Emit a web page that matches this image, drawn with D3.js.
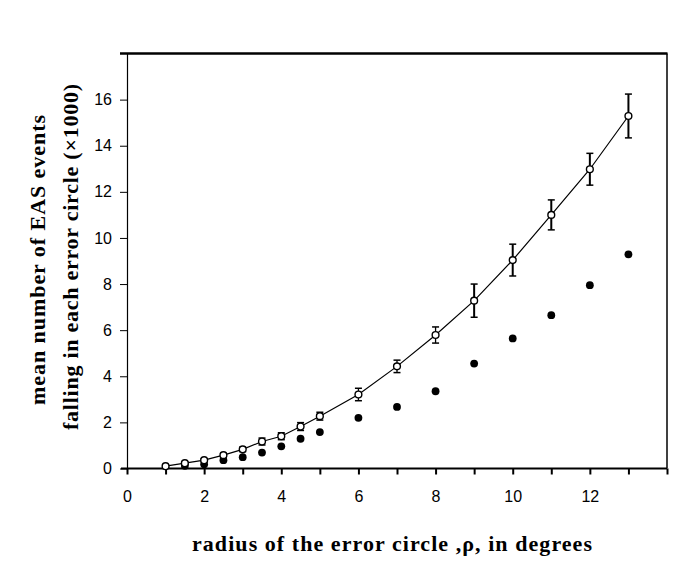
<!DOCTYPE html>
<html lang="en">
<head>
    <meta charset="UTF-8">
    <title>EAS events in error circles</title>
    <script src="https://d3js.org/d3.v7.min.js"></script>
    <style>
        body { margin: 0; background: #fff; }
        .tick-label { font-family: "Liberation Sans", Arial, sans-serif; font-size: 16px; }
        .axis-title { font-family: "Liberation Serif", "Times New Roman", serif; font-size: 22px; font-weight: bold; }
    </style>
</head>
<body>

<svg id="chart" width="695" height="580"></svg>

<script>
    // radius of error circle (degrees)
    const radius = [1, 1.5, 2, 2.5, 3, 3.5, 4, 4.5, 5, 6, 7, 8, 9, 10, 11, 12, 13];
    // open circles: mean events (x1000) with error
    const openMean = [0.1, 0.23, 0.36, 0.58, 0.83, 1.17, 1.4, 1.82, 2.27, 3.21, 4.43, 5.79, 7.28, 9.04, 11.0, 12.98, 15.29];
    const openErr = [0.05, 0.05, 0.06, 0.08, 0.1, 0.15, 0.15, 0.17, 0.17, 0.27, 0.27, 0.35, 0.72, 0.69, 0.65, 0.69, 0.95];
    // filled circles
    const filledRadius = [1.5, 2, 2.5, 3, 3.5, 4, 4.5, 5, 6, 7, 8, 9, 10, 11, 12, 13];
    const filledMean = [0.12, 0.18, 0.36, 0.49, 0.69, 0.96, 1.29, 1.58, 2.2, 2.67, 3.35, 4.55, 5.64, 6.65, 7.95, 9.29];

    const xTicks = [0, 1, 2, 3, 4, 5, 6, 7, 8, 9, 10, 11, 12, 13, 14];
    const xLabels = [0, 2, 4, 6, 8, 10, 12];
    const yTicks = [0, 2, 4, 6, 8, 10, 12, 14, 16];

    const openData = radius.map((r, i) => ({ r: r, m: openMean[i], e: openErr[i] }));
    const filledData = filledRadius.map((r, i) => ({ r: r, m: filledMean[i] }));

    const svg = d3.select('#chart');
    const x = d3.scaleLinear().domain([0, 14]).range([127, 667]);
    const y = d3.scaleLinear().domain([0, 18]).range([468.5, 53.5]);

    // frame: top and right
    svg.append('line')
        .attr('x1', 120).attr('x2', 667.5)
        .attr('y1', y(18)).attr('y2', y(18))
        .attr('stroke', '#000').attr('stroke-width', 2.5);
    svg.append('line')
        .attr('x1', x(14)).attr('x2', x(14))
        .attr('y1', y(18)).attr('y2', y(0))
        .attr('stroke', '#000').attr('stroke-width', 1.5);

    // x axis
    const xAxis = svg.append('g')
        .attr('transform', `translate(0,${y(0)})`)
        .call(d3.axisBottom(x).tickValues(xTicks).tickSize(6).tickPadding(11).tickSizeOuter(0)
            .tickFormat(d => xLabels.includes(d) ? d : ''));
    xAxis.select('.domain').attr('stroke-width', 1.8).attr('d', `M121,0H${x(14)}`);
    xAxis.selectAll('.tick line').attr('stroke-width', 2);
    xAxis.selectAll('.tick text')
        .attr('class', 'tick-label')
        .attr('dy', '1.05em')
        .attr('fill', '#000');
    xAxis.attr('font-family', null).attr('font-size', null);

    // y axis
    const yAxis = svg.append('g')
        .attr('transform', `translate(${x(0)},0)`)
        .call(d3.axisLeft(y).tickValues(yTicks).tickSize(7).tickPadding(8).tickSizeOuter(0));
    yAxis.select('.domain').attr('stroke-width', 1.2);
    yAxis.selectAll('.tick text')
        .attr('class', 'tick-label')
        .attr('fill', '#000');
    yAxis.attr('font-family', null).attr('font-size', null);

    // connecting line through open points
    const line = d3.line()
        .x(d => x(d.r))
        .y(d => y(d.m));
    svg.append('path')
        .datum(openData)
        .attr('d', line)
        .attr('fill', 'none')
        .attr('stroke', '#000')
        .attr('stroke-width', 1.2);

    // error bars
    const bars = svg.selectAll('.err')
        .data(openData)
        .enter()
        .append('g')
        .attr('class', 'err');
    bars.append('line')
        .attr('x1', d => x(d.r)).attr('x2', d => x(d.r))
        .attr('y1', d => y(d.m - d.e)).attr('y2', d => y(d.m + d.e))
        .attr('stroke', '#000')
        .attr('stroke-width', d => d.e > 0.5 ? 2 : 1.3);
    bars.selectAll('.cap')
        .data(d => [d.m - d.e, d.m + d.e].map(v => ({ r: d.r, v: v })))
        .enter()
        .append('line')
        .attr('x1', d => x(d.r) - 3.5).attr('x2', d => x(d.r) + 3.5)
        .attr('y1', d => y(d.v)).attr('y2', d => y(d.v))
        .attr('stroke', '#000')
        .attr('stroke-width', 1.5);

    // filled circles
    svg.selectAll('.filled')
        .data(filledData)
        .enter()
        .append('circle')
        .attr('class', 'filled')
        .attr('cx', d => x(d.r))
        .attr('cy', d => y(d.m))
        .attr('r', 3.9)
        .attr('fill', '#000');

    // open circles
    svg.selectAll('.open')
        .data(openData)
        .enter()
        .append('circle')
        .attr('class', 'open')
        .attr('cx', d => x(d.r))
        .attr('cy', d => y(d.m))
        .attr('r', 3.4)
        .attr('fill', '#fff')
        .attr('stroke', '#000')
        .attr('stroke-width', 1.4);

    // axis titles
    svg.append('text')
        .attr('class', 'axis-title')
        .attr('x', 392)
        .attr('y', 551)
        .attr('text-anchor', 'middle')
        .attr('textLength', 400)
        .attr('lengthAdjust', 'spacing')
        .text('radius of the error circle ,ρ, in degrees');

    svg.append('text')
        .attr('class', 'axis-title')
        .attr('transform', 'translate(45,260) rotate(-90)')
        .attr('text-anchor', 'middle')
        .attr('textLength', 290)
        .attr('lengthAdjust', 'spacing')
        .text('mean number of EAS events');

    svg.append('text')
        .attr('class', 'axis-title')
        .attr('transform', 'translate(78,257) rotate(-90)')
        .attr('text-anchor', 'middle')
        .attr('textLength', 346)
        .attr('lengthAdjust', 'spacing')
        .text('falling in each error circle (×1000)');
</script>

</body>
</html>
